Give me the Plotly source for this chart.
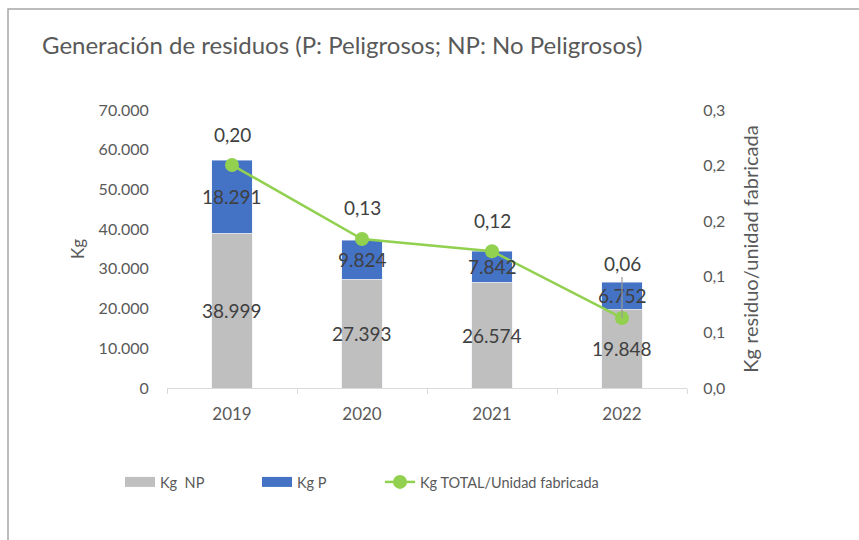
import plotly.graph_objects as go

years = ["2019", "2020", "2021", "2022"]
kg_np = [38999, 27393, 26574, 19848]
kg_p = [18291, 9824, 7842, 6752]
kg_unit = [0.2005, 0.134, 0.123, 0.063]
y_ticks = [0, 10000, 20000, 30000, 40000, 50000, 60000, 70000]
y2_ticks = [0, 0.05, 0.10, 0.15, 0.20, 0.25]
y2_ticktext = ["0,0", "0,1", "0,1", "0,2", "0,2", "0,3"]

# label offsets (style only, pixels above the point)
unit_label_offsets = [-31, -31, -31, -54]
unit_label_leader = [False, False, False, True]

FONT = "Lato, 'Open Sans', sans-serif"
GRAY_TXT = "#595959"
DARK_TXT = "#404040"
C_NP = "#BFBFBF"
C_P = "#4472C4"
C_LINE = "#92D050"

def fmt_thousands(v):
    return f"{v:,}".replace(",", ".")

fig = go.Figure()
fig.add_trace(go.Bar(x=years, y=kg_np, name="Kg NP", marker_color=C_NP,
                     width=0.31, showlegend=False, hoverinfo="skip"))
fig.add_trace(go.Bar(x=years, y=kg_p, name="Kg P", marker_color=C_P,
                     width=0.31, showlegend=False, hoverinfo="skip"))
fig.add_trace(go.Scatter(x=years, y=kg_unit, yaxis="y2", mode="lines+markers",
                         name="Kg TOTAL/Unidad fabricada", legend="legend3",
                         line=dict(color=C_LINE, width=2.5),
                         marker=dict(color=C_LINE, size=14), hoverinfo="skip"))
# legend entries with wide swatches for the bar series
fig.add_trace(go.Scatter(x=years[:1], y=[None], mode="lines", name="Kg\u00a0\u00a0NP",
                         line=dict(color=C_NP, width=11), legend="legend", hoverinfo="skip"))
fig.add_trace(go.Scatter(x=years[:1], y=[None], mode="lines", name="Kg P",
                         line=dict(color=C_P, width=11), legend="legend2", hoverinfo="skip"))

# annotations on a category axis are positioned by category index
annotations = []
for i, (a, b) in enumerate(zip(kg_np, kg_p)):
    annotations.append(dict(x=i, y=a / 2, xref="x", yref="y", text=fmt_thousands(a),
                            showarrow=False, font=dict(family=FONT, size=19, color=DARK_TXT)))
    annotations.append(dict(x=i, y=a + b / 2, xref="x", yref="y", text=fmt_thousands(b),
                            showarrow=False, font=dict(family=FONT, size=19, color=DARK_TXT)))
for i, (v, off, lead) in enumerate(zip(kg_unit, unit_label_offsets, unit_label_leader)):
    annotations.append(dict(x=i, y=v, xref="x", yref="y2", text=f"{v:.2f}".replace(".", ","),
                            showarrow=True, arrowhead=0, arrowwidth=1.2, standoff=0,
                            arrowcolor="#9A9A9A" if lead else "rgba(0,0,0,0)",
                            ax=0, ay=off,
                            font=dict(family=FONT, size=19, color=DARK_TXT)))

legend_common = dict(orientation="h", xanchor="left", yanchor="middle",
                     y=(388 - 482) / 278, font=dict(size=14.5, color=GRAY_TXT),
                     bgcolor="rgba(0,0,0,0)")

fig.update_layout(
    width=859, height=540,
    margin=dict(l=167, r=172, t=110, b=152, autoexpand=False),
    paper_bgcolor="white", plot_bgcolor="white",
    barmode="stack",
    separators=",.",
    font=dict(family=FONT, size=16, color=GRAY_TXT),
    title=dict(text="Generación de residuos (P: Peligrosos; NP: No Peligrosos)",
               x=42 / 859, xanchor="left", y=1 - 46 / 540, yanchor="middle",
               font=dict(family=FONT, size=24, color=GRAY_TXT)),
    xaxis=dict(type="category", categoryorder="array", categoryarray=years,
               range=[-0.5, len(years) - 0.5],
               showline=True, linecolor="#D9D9D9", linewidth=1,
               ticks="outside", tickson="boundaries", ticklen=5, tickcolor="#D9D9D9",
               ticklabelstandoff=11,
               showgrid=False, tickfont=dict(size=17, color=GRAY_TXT)),
    yaxis=dict(range=[0, 70000], tickvals=y_ticks, tickformat=",d", showgrid=False,
               zeroline=False, showline=False, ticks="outside", ticklen=14,
               tickcolor="rgba(0,0,0,0)", automargin=False,
               title=dict(text="Kg", standoff=9, font=dict(size=17, color=GRAY_TXT)),
               tickfont=dict(size=16, color=GRAY_TXT)),
    yaxis2=dict(range=[0, 0.25], overlaying="y", side="right", tickvals=y2_ticks,
                ticktext=y2_ticktext, showgrid=False, zeroline=False, showline=False,
                ticks="outside", ticklen=12, tickcolor="rgba(0,0,0,0)", automargin=False,
                title=dict(text="Kg residuo/unidad fabricada", standoff=19,
                           font=dict(size=20, color=GRAY_TXT)),
                tickfont=dict(size=16, color=GRAY_TXT)),
    legend=dict(legend_common, x=(120 - 167) / 520),
    legend2=dict(legend_common, x=(257 - 167) / 520),
    legend3=dict(legend_common, x=(380 - 167) / 520),
    annotations=annotations,
    shapes=[dict(type="rect", xref="paper", yref="paper",
                 x0=(8 - 167) / 520, x1=(900 - 167) / 520,
                 y0=(388 - 600) / 278, y1=(388 - 9) / 278,
                 line=dict(color="#A6A6A6", width=1.5), fillcolor="rgba(0,0,0,0)",
                 layer="below")],
)

fig.write_html("out.html", config={"displayModeBar": False},
               post_script="document.body.style.margin='0';")
